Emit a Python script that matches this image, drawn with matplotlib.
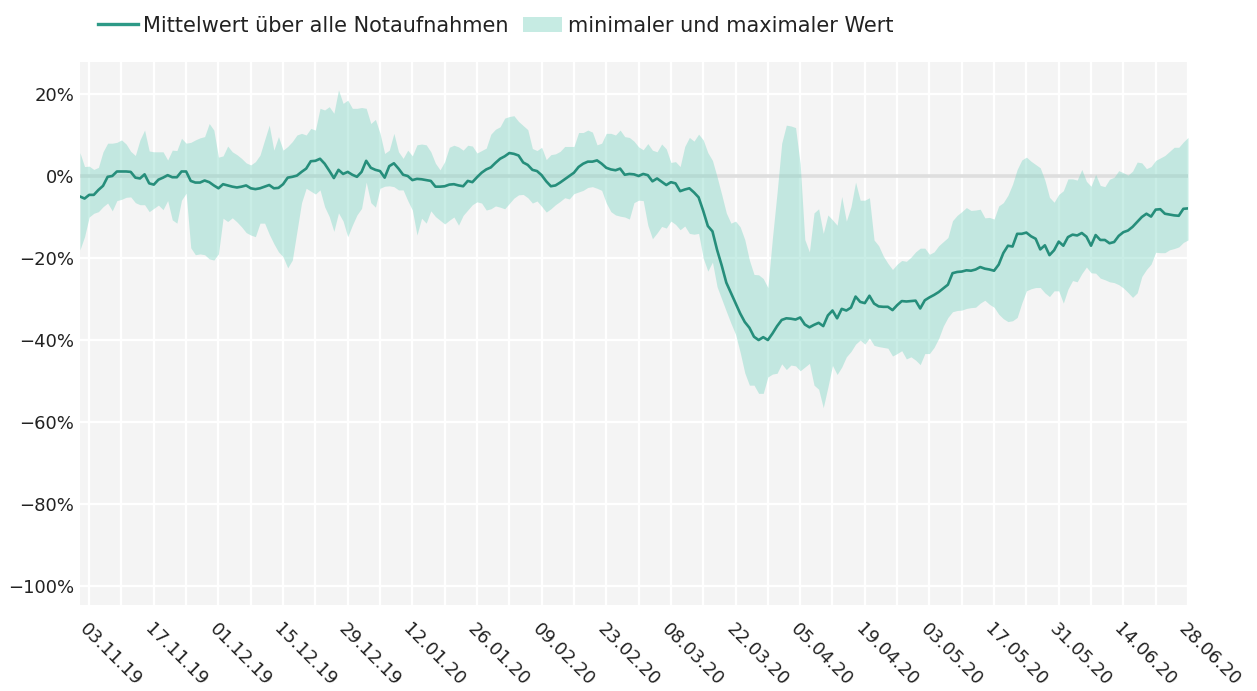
"""
Notaufnahmen: Mittelwert mit Min/Max-Band, taeglich Nov 2019 - Jun 2020.
"""
import matplotlib
matplotlib.use('Agg')
import matplotlib.pyplot as plt
import matplotlib.dates as mdates
from matplotlib.lines import Line2D
from matplotlib.patches import Patch
from matplotlib.ticker import FuncFormatter
import pandas as pd

# ============================================================================
# Data (percent, one value per day starting 01.11.2019)
# ============================================================================

start_date = '2019-11-01'

mean_values = [
    -5.0, -5.5, -4.6, -4.6, -3.4, -2.4, -0.2, 0.0, 1.1, 1.1,
    1.1, 1.0, -0.4, -0.6, 0.4, -1.8, -2.1, -0.9, -0.4, 0.2,
    -0.3, -0.3, 1.1, 1.1, -1.2, -1.6, -1.6, -1.1, -1.5, -2.3,
    -3.0, -2.0, -2.3, -2.6, -2.8, -2.6, -2.3, -3.0, -3.2, -3.0,
    -2.6, -2.2, -3.0, -2.9, -2.0, -0.4, -0.2, 0.1, 1.0, 1.8,
    3.6, 3.7, 4.2, 3.0, 1.3, -0.5, 1.5, 0.5, 1.0, 0.3,
    -0.2, 1.0, 3.7, 2.0, 1.5, 1.2, -0.4, 2.4, 3.1, 1.8,
    0.3, 0.0, -1.0, -0.7, -0.8, -1.0, -1.2, -2.6, -2.6, -2.5,
    -2.1, -2.0, -2.3, -2.5, -1.2, -1.5, -0.3, 0.8, 1.6, 2.1,
    3.2, 4.2, 4.8, 5.6, 5.4, 5.0, 3.3, 2.7, 1.5, 1.2,
    0.2, -1.3, -2.5, -2.3, -1.6, -0.8, 0.0, 0.8, 2.2, 3.0,
    3.5, 3.5, 3.8, 3.0, 2.0, 1.6, 1.4, 1.8, 0.3, 0.5,
    0.4, 0.0, 0.5, 0.2, -1.3, -0.6, -1.4, -2.2, -1.5, -1.8,
    -3.7, -3.3, -3.0, -4.0, -5.2, -8.5, -12.2, -13.5, -18.0, -21.8,
    -26.0, -28.5, -31.0, -33.5, -35.6, -37.0, -39.2, -40.0, -39.3, -40.0,
    -38.4, -36.6, -35.1, -34.7, -34.8, -35.0, -34.5, -36.2, -36.9, -36.3,
    -35.8, -36.6, -34.0, -32.8, -34.7, -32.4, -32.8, -32.1, -29.4, -30.7,
    -31.0, -29.2, -31.1, -31.8, -31.9, -31.9, -32.7, -31.5, -30.5, -30.6,
    -30.5, -30.4, -32.3, -30.3, -29.6, -29.0, -28.3, -27.4, -26.5, -23.7,
    -23.4, -23.3, -23.0, -23.1, -22.8, -22.2, -22.6, -22.8, -23.1, -21.6,
    -18.8, -17.0, -17.2, -14.1, -14.1, -13.8, -14.7, -15.3, -17.9, -16.9,
    -19.3, -18.1, -16.0, -17.0, -14.9, -14.3, -14.5, -13.9, -14.8, -17.0,
    -14.4, -15.6, -15.6, -16.4, -16.1, -14.6, -13.7, -13.3, -12.4, -11.2,
    -10.0, -9.2, -9.9, -8.2, -8.1, -9.2, -9.4, -9.6, -9.7, -8.0, -7.9,
]

max_values = [
    5.7, 2.3, 2.4, 1.6, 2.1, 5.9, 8.0, 8.0, 8.2, 8.8,
    7.8, 6.0, 5.0, 8.8, 11.2, 6.1, 5.9, 5.9, 5.9, 3.9,
    6.3, 6.2, 9.2, 8.0, 8.2, 8.8, 9.3, 9.6, 12.8, 11.2,
    4.6, 4.9, 7.3, 5.9, 5.2, 4.3, 3.2, 2.7, 3.5, 5.1,
    8.8, 12.4, 6.3, 9.6, 6.3, 7.2, 8.4, 10.0, 10.4, 10.0,
    11.6, 11.2, 16.5, 16.1, 16.9, 15.3, 21.0, 17.7, 18.5, 16.5,
    16.5, 16.7, 16.5, 12.8, 13.8, 10.4, 5.5, 6.3, 10.4, 5.9,
    4.3, 6.3, 4.9, 7.6, 7.8, 7.6, 5.9, 3.1, 1.5, 3.5,
    7.0, 7.5, 7.1, 6.3, 7.5, 7.3, 5.6, 6.2, 6.8, 10.2,
    11.4, 12.0, 14.1, 14.5, 14.7, 13.3, 12.3, 11.3, 6.7, 6.2,
    7.0, 4.0, 5.2, 5.4, 6.0, 7.2, 7.2, 7.2, 10.6, 10.6,
    11.2, 10.7, 7.6, 8.0, 10.4, 10.4, 10.0, 11.2, 9.6, 9.4,
    8.5, 7.1, 6.4, 7.9, 6.3, 5.9, 7.8, 6.6, 3.3, 3.5,
    2.3, 7.2, 9.4, 8.5, 10.2, 8.8, 5.7, 3.8, -0.2, -4.5,
    -9.0, -11.5, -11.0, -12.4, -15.5, -20.5, -24.0, -24.1, -25.0, -27.2,
    -15.0, -4.0, 8.0, 12.4, 12.2, 11.8, 3.0, -15.5, -18.5, -9.0,
    -8.0, -14.0, -9.5, -10.7, -12.0, -5.0, -11.0, -7.5, -1.5, -5.9,
    -5.9, -5.3, -15.6, -17.0, -19.5, -21.3, -22.8, -21.5, -20.6, -20.8,
    -19.8, -18.5, -17.6, -17.6, -19.1, -18.5, -17.0, -16.0, -15.0, -10.9,
    -9.6, -8.7, -7.7, -8.4, -8.3, -8.1, -10.2, -10.1, -10.5, -7.3,
    -6.5, -4.7, -2.0, 1.6, 3.9, 4.6, 3.6, 2.8, 2.0, -1.0,
    -5.2, -6.4, -4.5, -3.6, -0.7, -0.7, -1.0, 1.6, -1.3, -2.5,
    0.4, -2.3, -2.6, -0.8, -0.3, 1.3, 0.8, 0.2, 1.2, 3.4,
    3.2, 1.8, 2.3, 3.8, 4.4, 5.0, 6.0, 7.0, 7.0, 8.3, 9.4,
]

min_values = [
    -18.0, -14.8, -10.0, -9.1, -8.7, -7.5, -6.6, -8.5, -6.0, -5.7,
    -5.2, -5.1, -6.5, -7.0, -7.0, -8.7, -7.9, -7.1, -8.2, -6.0,
    -10.7, -11.5, -5.9, -4.2, -17.5, -19.2, -19.0, -19.2, -20.2, -20.5,
    -19.0, -10.3, -11.1, -10.2, -11.2, -12.4, -13.8, -14.4, -14.8, -11.5,
    -11.5, -14.2, -16.5, -18.5, -19.7, -22.4, -20.5, -13.5, -6.5, -3.0,
    -3.7, -4.4, -3.4, -7.5, -9.9, -13.5, -9.0, -11.0, -14.8, -12.0,
    -9.5, -7.9, -1.5, -6.5, -7.6, -3.0, -2.5, -2.4, -2.6, -3.4,
    -3.4, -6.0, -8.3, -14.4, -10.3, -11.5, -8.5, -9.9, -10.8, -11.7,
    -10.8, -10.0, -12.0, -9.6, -8.3, -7.0, -6.3, -6.6, -8.3, -8.0,
    -7.3, -7.6, -8.0, -6.7, -5.4, -4.6, -4.5, -5.3, -6.6, -6.1,
    -7.4, -8.8, -8.0, -7.0, -6.2, -5.3, -5.6, -4.3, -3.9, -3.5,
    -2.8, -2.6, -3.0, -3.5, -6.6, -8.7, -9.5, -9.8, -10.0, -10.5,
    -6.5, -5.9, -6.0, -12.0, -15.3, -13.9, -12.3, -12.7, -11.0, -11.8,
    -13.1, -12.2, -14.0, -14.2, -14.0, -20.0, -23.2, -21.0, -27.0, -30.0,
    -33.0, -35.9, -38.6, -43.0, -48.0, -51.0, -51.0, -53.0, -53.0, -49.0,
    -48.3, -48.1, -45.8, -47.2, -46.1, -46.3, -47.5, -46.6, -45.7, -51.0,
    -52.0, -56.5, -51.5, -46.2, -48.4, -46.6, -44.1, -42.8, -41.0, -40.0,
    -41.0, -39.5, -41.3, -41.6, -41.8, -42.0, -43.9, -43.3, -42.6, -44.6,
    -44.1, -44.9, -46.0, -43.3, -43.3, -41.8, -39.6, -36.6, -34.5, -33.1,
    -32.8, -32.7, -32.3, -32.1, -32.0, -31.0, -30.3, -31.3, -32.0, -33.7,
    -34.8, -35.5, -35.3, -34.5, -31.0, -28.0, -27.5, -27.2, -27.2, -28.5,
    -29.4, -28.0, -28.0, -31.0, -27.6, -25.5, -25.8, -23.8, -22.2, -23.6,
    -23.7, -24.9, -25.3, -25.8, -26.0, -26.5, -27.3, -28.4, -29.6, -28.5,
    -24.5, -22.8, -21.5, -18.6, -18.7, -18.7, -18.0, -17.7, -17.3, -16.2, -15.6,
]

dates = pd.date_range(start_date, periods=len(mean_values), freq='D')

tick_dates = pd.date_range('2019-11-03', '2020-06-28', freq='14D')
week_dates = pd.date_range('2019-11-03', '2020-06-28', freq='7D')
y_ticks = [-100, -80, -60, -40, -20, 0, 20]

LINE_COLOR = '#268e7b'
BAND_COLOR = '#7fd6c5'

plt.rcParams['font.family'] = ['DejaVu Sans']

fig = plt.figure(figsize=(12.57, 6.91), dpi=100)
ax = fig.add_axes([0.0636, 0.1245, 0.8815, 0.7858])
ax.set_facecolor('#f4f4f4')
for spine in ax.spines.values():
    spine.set_visible(False)

# gridlines by hand so the zero line can sit on top of them
for d in week_dates:
    ax.axvline(d, color='white', lw=1.6, zorder=0.5)
for yv in y_ticks:
    if yv != 0:
        ax.axhline(yv, color='white', lw=1.6, zorder=0.5)
ax.axhline(0, color='#dedede', lw=2.6, zorder=0.6)

ax.fill_between(dates, min_values, max_values, color=BAND_COLOR, alpha=0.42,
                linewidth=0, zorder=1)
ax.plot(dates, mean_values, color=LINE_COLOR, lw=1.9, zorder=2)

ax.set_xlim(dates[0], dates[-1])
ax.set_ylim(-104.6, 27.8)

ax.set_yticks(y_ticks)
ax.yaxis.set_major_formatter(FuncFormatter(
    lambda v, _: f'{int(v)}%'.replace('-', '\u2212')))
ax.set_xticks(tick_dates)
ax.xaxis.set_major_formatter(mdates.DateFormatter('%d.%m.%y'))
ax.tick_params(axis='both', length=0, labelsize=13, colors='#222222')
ax.tick_params(axis='y', pad=4)
ax.tick_params(axis='x', pad=11)
for lbl in ax.get_xticklabels():
    lbl.set_rotation(-45)
    lbl.set_ha('left')
    lbl.set_va('top')
    lbl.set_rotation_mode('anchor')

handles = [
    Line2D([0], [0], color='#2e9a87', lw=2.4),
    Patch(facecolor='#c6ebe3', edgecolor='none'),
]
fig.legend(handles, ['Mittelwert über alle Notaufnahmen', 'minimaler und maximaler Wert'],
           loc='center left', bbox_to_anchor=(0.063, 0.963), ncol=2, frameon=False,
           fontsize=15, handlelength=1.9, handleheight=0.7, handletextpad=0.25,
           columnspacing=0.7, labelcolor='#222222')

fig.savefig('out.png', dpi=100)
plt.close(fig)
